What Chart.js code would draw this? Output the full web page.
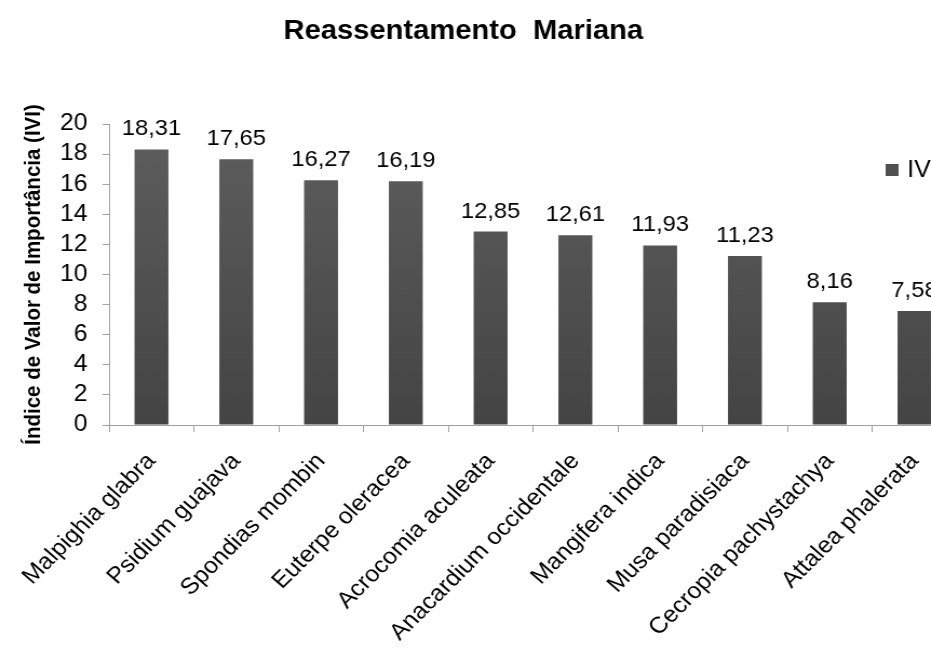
<!DOCTYPE html>
<html>
<head>
<meta charset="utf-8">
<title>Reassentamento Mariana</title>
<script src="https://cdn.jsdelivr.net/npm/chart.js@4/dist/chart.umd.min.js"></script>
<style>
  body { margin: 0; background: #fff; }
  #wrap { width: 931px; height: 655px; overflow: hidden; position: relative; }
  /* the chart is drawn slightly wide, as in the exported figure */
  #ivChart { transform: scaleX(1.08); transform-origin: 0 0; }
</style>
</head>
<body>
<div id="wrap">
  <canvas id="ivChart" width="926" height="655"></canvas>
</div>
<script>
// Species and their importance values
let especies = [
    'Malpighia glabra', 'Psidium guajava', 'Spondias mombin', 'Euterpe oleracea',
    'Acrocomia aculeata', 'Anacardium occidentale', 'Mangifera indica',
    'Musa paradisiaca', 'Cecropia pachystachya', 'Attalea phalerata'
];
let valoresIVI = [18.31, 17.65, 16.27, 16.19, 12.85, 12.61, 11.93, 11.23, 8.16, 7.58];
let ticksY = [0, 2, 4, 6, 8, 10, 12, 14, 16, 18, 20];

let tituloGrafico = 'Reassentamento  Mariana';
let tituloEixoY = 'Índice de Valor de Importância (IVI)';
let nomeSerie = 'IVI';

const fonte = "'Liberation Sans', Arial, sans-serif";
const corEixo = '#a0a0a0';

function formatar(v) {
    return v.toFixed(2).replace('.', ',');
}

// gradient fill for the bars, darker toward the base
function corBarra(context) {
    const area = context.chart.chartArea;
    if (!area) return '#4f4f4f';
    const g = context.chart.ctx.createLinearGradient(0, area.top, 0, area.bottom);
    g.addColorStop(0, '#5e5e5e');
    g.addColorStop(1, '#444444');
    return g;
}

// value labels above each bar
const rotulosValor = {
    id: 'rotulosValor',
    afterDatasetsDraw(chart) {
        const ctx = chart.ctx;
        const meta = chart.getDatasetMeta(0);
        ctx.save();
        ctx.font = '22px ' + fonte;
        ctx.fillStyle = '#000';
        ctx.textAlign = 'center';
        ctx.textBaseline = 'alphabetic';
        meta.data.forEach(function(bar, i) {
            ctx.fillText(formatar(chart.data.datasets[0].data[i]), bar.x, bar.y - 14);
        });
        ctx.restore();
    }
};

// chart title and the small legend on the right
const tituloLegenda = {
    id: 'tituloLegenda',
    afterDraw(chart) {
        const ctx = chart.ctx;
        ctx.save();
        ctx.fillStyle = '#000';
        ctx.font = 'bold 27px ' + fonte;
        ctx.textAlign = 'center';
        ctx.textBaseline = 'middle';
        ctx.fillText(tituloGrafico, 429, 32);

        ctx.fillStyle = '#505050';
        ctx.fillRect(820, 164, 12, 12);
        ctx.fillStyle = '#000';
        ctx.font = '23px ' + fonte;
        ctx.textAlign = 'left';
        ctx.fillText(chart.data.datasets[0].label, 840, 171);
        ctx.restore();
    }
};

const data = {
    labels: especies,
    datasets: [{
        label: nomeSerie,
        data: valoresIVI,
        backgroundColor: corBarra,
        borderWidth: 0,
        barPercentage: 0.5,
        categoryPercentage: 0.8
    }]
};

const config = {
    type: 'bar',
    data: data,
    options: {
        responsive: false,
        animation: false,
        devicePixelRatio: 1,
        layout: {
            padding: { top: 124, right: 40, bottom: 0, left: 0 }
        },
        plugins: {
            legend: { display: false },
            title: { display: false },
            tooltip: { enabled: false }
        },
        scales: {
            x: {
                offset: true,
                grid: {
                    drawOnChartArea: false,
                    tickLength: 7,
                    color: corEixo
                },
                border: { color: corEixo },
                ticks: {
                    color: '#000',
                    font: { family: fonte, size: 23 },
                    minRotation: 47,
                    maxRotation: 47,
                    padding: 16,
                    autoSkip: false
                },
                afterFit: function(scale) { scale.height = 230; }
            },
            y: {
                min: 0,
                max: 20,
                afterBuildTicks: function(scale) {
                    scale.ticks = ticksY.map(function(v) { return { value: v }; });
                },
                grid: {
                    drawOnChartArea: false,
                    tickLength: 6,
                    color: corEixo
                },
                border: { color: corEixo },
                ticks: {
                    color: '#000',
                    font: { family: fonte, size: 23 },
                    padding: 14,
                    autoSkip: false
                },
                title: {
                    display: true,
                    text: tituloEixoY,
                    color: '#000',
                    font: { family: fonte, size: 20.5, weight: 'bold' },
                    padding: { top: 19, bottom: 0 }
                },
                afterFit: function(scale) { scale.width = 101; }
            }
        }
    },
    plugins: [rotulosValor, tituloLegenda]
};

const grafico = new Chart(document.getElementById('ivChart'), config);
</script>
</body>
</html>
